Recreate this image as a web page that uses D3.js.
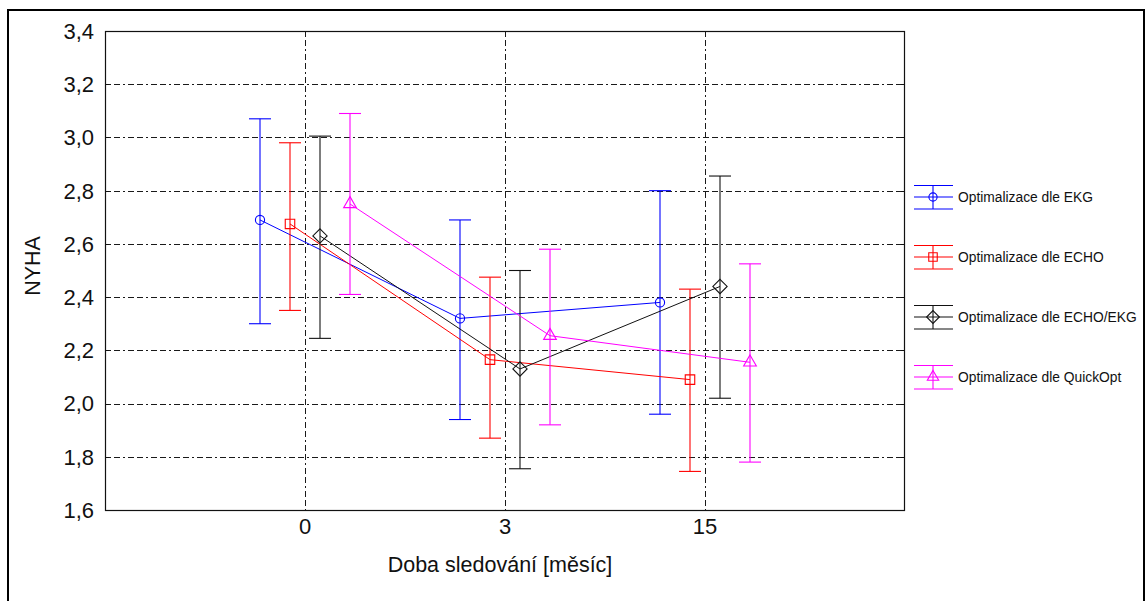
<!DOCTYPE html>
<html>
<head>
<meta charset="utf-8">
<script src="https://cdn.jsdelivr.net/npm/d3@7"></script>
<style>
    html, body { margin: 0; padding: 0; background: #fff; }
    svg { display: block; font-family: "Liberation Sans", Arial, sans-serif; }
    .grid line { stroke: #1a1a1a; stroke-width: 1; stroke-dasharray: 6,3,6,3,2,3; }
    .tick-label { font-size: 22px; fill: #111; }
    .axis-title { font-size: 21.5px; fill: #111; }
    .legend-label { font-size: 13.8px; fill: #111; stroke: none; }
</style>
</head>
<body>
<div id="chart"></div>
<script>
(function () {
    "use strict";

    const width = 1147;
    const height = 601;

    // follow-up time points (months)
    const categories = ["0", "3", "15"];
    const yTicks = [1.6, 1.8, 2.0, 2.2, 2.4, 2.6, 2.8, 3.0, 3.2, 3.4];

    const seriesNames = [
        "Optimalizace dle EKG",
        "Optimalizace dle ECHO",
        "Optimalizace dle ECHO/EKG",
        "Optimalizace dle QuickOpt"
    ];

    const ekgMean = [2.69, 2.32, 2.38];
    const ekgUpper = [3.07, 2.69, 2.80];
    const ekgLower = [2.30, 1.94, 1.96];

    const echoMean = [2.675, 2.165, 2.09];
    const echoUpper = [2.98, 2.475, 2.43];
    const echoLower = [2.35, 1.87, 1.745];

    const echoEkgMean = [2.63, 2.13, 2.44];
    const echoEkgUpper = [3.005, 2.50, 2.855];
    const echoEkgLower = [2.245, 1.755, 2.02];

    const quickMean = [2.75, 2.255, 2.155];
    const quickUpper = [3.09, 2.58, 2.525];
    const quickLower = [2.41, 1.92, 1.78];

    const colors = ["#0000ff", "#ff0000", "#111111", "#ff00ff"];
    const symbols = ["circle", "square", "diamond", "triangle"];

    const series = seriesNames.map((name, i) => ({
        name: name,
        color: colors[i],
        symbol: symbols[i],
        points: categories.map((c, j) => ({
            cat: c,
            mean: [ekgMean, echoMean, echoEkgMean, quickMean][i][j],
            upper: [ekgUpper, echoUpper, echoEkgUpper, quickUpper][i][j],
            lower: [ekgLower, echoLower, echoEkgLower, quickLower][i][j]
        }))
    }));

    const plot = { left: 105, right: 904, top: 31, bottom: 510 };

    const x = d3.scalePoint()
        .domain(categories)
        .range([plot.left, plot.right + 1])
        .padding(1);

    // small horizontal shift so the four groups do not overlap
    const offset = d3.scalePoint()
        .domain(seriesNames)
        .range([-45, 45]);

    const y = d3.scaleLinear()
        .domain([1.6, 3.4])
        .range([plot.bottom, plot.top]);

    const svg = d3.select("#chart")
        .append("svg")
        .attr("width", width)
        .attr("height", height);

    // outer frame
    svg.append("rect")
        .attr("x", 8)
        .attr("y", 10)
        .attr("width", 1136)
        .attr("height", 620)
        .attr("fill", "none")
        .attr("stroke", "#000")
        .attr("stroke-width", 2);

    const grid = svg.append("g").attr("class", "grid");

    grid.selectAll("line.h")
        .data(yTicks.slice(1, -1))
        .join("line")
        .attr("class", "h")
        .attr("x1", plot.left)
        .attr("x2", plot.right)
        .attr("y1", (d) => Math.round(y(d)) + 0.5)
        .attr("y2", (d) => Math.round(y(d)) + 0.5);

    grid.selectAll("line.v")
        .data(categories)
        .join("line")
        .attr("class", "v")
        .attr("x1", (d) => Math.round(x(d)) + 0.5)
        .attr("x2", (d) => Math.round(x(d)) + 0.5)
        .attr("y1", plot.top)
        .attr("y2", plot.bottom);

    // plot frame
    svg.append("rect")
        .attr("x", plot.left + 0.5)
        .attr("y", plot.top + 0.5)
        .attr("width", plot.right - plot.left)
        .attr("height", plot.bottom - plot.top)
        .attr("fill", "none")
        .attr("stroke", "#111")
        .attr("stroke-width", 1.2);

    // inward ticks on left / right
    const ticks = svg.append("g").attr("stroke", "#111");
    yTicks.forEach((v) => {
        const yy = Math.round(y(v)) + 0.5;
        ticks.append("line").attr("x1", plot.left).attr("x2", plot.left + 4).attr("y1", yy).attr("y2", yy);
        ticks.append("line").attr("x1", plot.right - 3).attr("x2", plot.right).attr("y1", yy).attr("y2", yy);
    });

    svg.append("g")
        .selectAll("text")
        .data(yTicks)
        .join("text")
        .attr("class", "tick-label")
        .attr("x", 94)
        .attr("y", (d) => y(d))
        .attr("dy", "0.36em")
        .attr("text-anchor", "end")
        .text((d) => d3.format(".1f")(d).replace(".", ","));

    svg.append("g")
        .selectAll("text")
        .data(categories)
        .join("text")
        .attr("class", "tick-label")
        .attr("x", (d) => x(d))
        .attr("y", 534)
        .attr("text-anchor", "middle")
        .text((d) => d);

    svg.append("text")
        .attr("class", "axis-title")
        .attr("x", 500)
        .attr("y", 572)
        .attr("text-anchor", "middle")
        .text("Doba sledování [měsíc]");

    svg.append("text")
        .attr("class", "axis-title")
        .attr("transform", "translate(40,266) rotate(-90)")
        .attr("text-anchor", "middle")
        .text("NYHA");

    function symbolPath(type, size) {
        const map = {
            circle: d3.symbolCircle,
            square: d3.symbolSquare,
            diamond: d3.symbolDiamond2 || d3.symbolDiamond,
            triangle: d3.symbolTriangle
        };
        return d3.symbol().type(map[type]).size(size)();
    }

    const symbolSize = { circle: 66, square: 90, diamond: 130, triangle: 70 };

    const line = d3.line()
        .x((d) => d.px)
        .y((d) => y(d.mean));

    const capHalf = 11;

    series.forEach((s) => {
        const g = svg.append("g")
            .attr("stroke", s.color)
            .attr("fill", "none")
            .attr("stroke-width", 1.1);

        const pts = s.points.map((p) => ({ ...p, px: x(p.cat) + offset(s.name) }));

        g.append("path")
            .attr("d", line(pts))
            .attr("stroke-width", 1);

        const bars = g.selectAll("g.bar")
            .data(pts)
            .join("g")
            .attr("class", "bar");

        bars.append("line")
            .attr("x1", (d) => d.px)
            .attr("x2", (d) => d.px)
            .attr("y1", (d) => y(d.upper))
            .attr("y2", (d) => y(d.lower));

        bars.append("line")
            .attr("x1", (d) => d.px - capHalf)
            .attr("x2", (d) => d.px + capHalf)
            .attr("y1", (d) => y(d.upper))
            .attr("y2", (d) => y(d.upper));

        bars.append("line")
            .attr("x1", (d) => d.px - capHalf)
            .attr("x2", (d) => d.px + capHalf)
            .attr("y1", (d) => y(d.lower))
            .attr("y2", (d) => y(d.lower));

        bars.append("path")
            .attr("transform", (d) => `translate(${d.px},${y(d.mean)})`)
            .attr("d", symbolPath(s.symbol, symbolSize[s.symbol]));
    });

    // legend
    const legend = svg.append("g")
        .selectAll("g")
        .data(series)
        .join("g")
        .attr("transform", (d, i) => `translate(933,${197 + i * 60})`);

    legend.each(function (d) {
        const g = d3.select(this).append("g")
            .attr("stroke", d.color)
            .attr("fill", "none")
            .attr("stroke-width", 1.1);
        g.append("line").attr("x1", -19).attr("x2", 20).attr("y1", -11.5).attr("y2", -11.5);
        g.append("line").attr("x1", -19).attr("x2", 20).attr("y1", 0).attr("y2", 0);
        g.append("line").attr("x1", -19).attr("x2", 20).attr("y1", 12).attr("y2", 12);
        g.append("line").attr("x1", 0).attr("x2", 0).attr("y1", -11.5).attr("y2", 12);
        g.append("path").attr("d", symbolPath(d.symbol, symbolSize[d.symbol] * 0.8));
    });

    legend.append("text")
        .attr("class", "legend-label")
        .attr("x", 25)
        .attr("dy", "0.36em")
        .text((d) => d.name);
}());
</script>
</body>
</html>
